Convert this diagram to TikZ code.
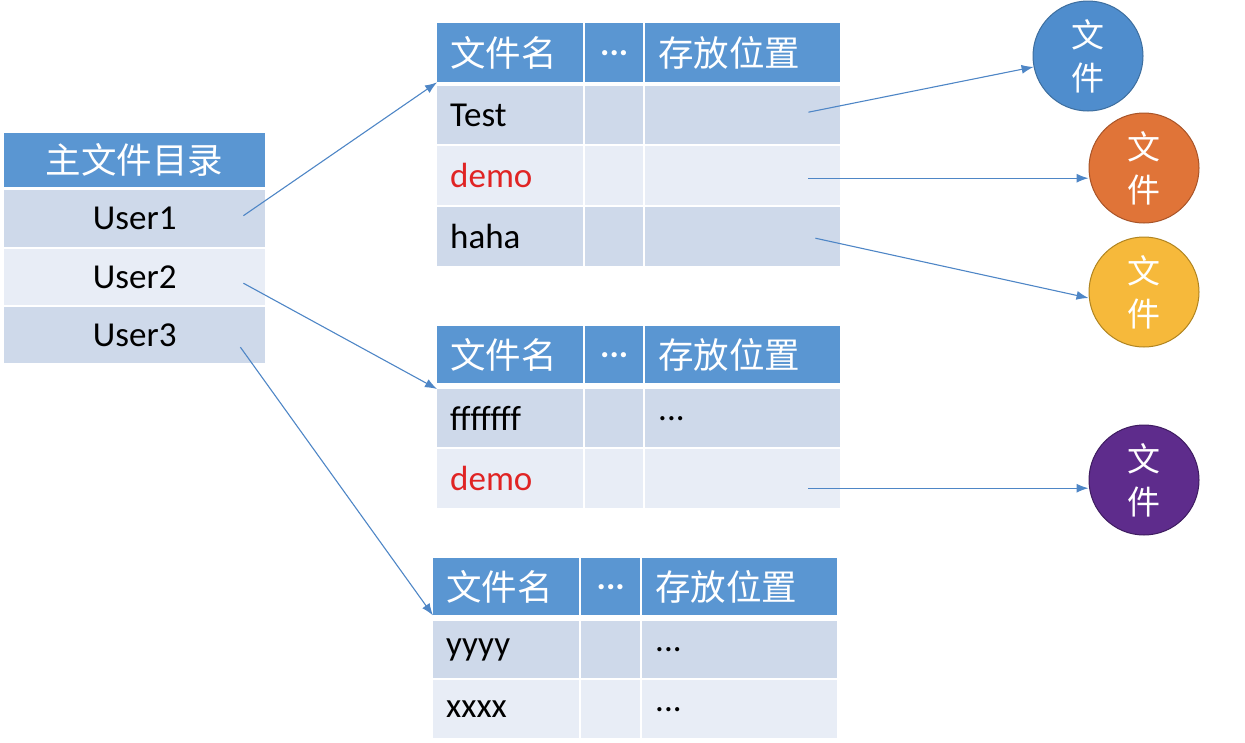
\documentclass[tikz,border=0pt]{standalone}
\usepackage{fontspec}
\setmainfont{Carlito}
\newfontfamily\cjk{Noto Sans CJK SC}
\usetikzlibrary{arrows.meta,calc}
\definecolor{hdr}{HTML}{5A96D2}
\definecolor{rowdark}{HTML}{CED9EA}
\definecolor{rowlight}{HTML}{E8EDF6}
\definecolor{arr}{HTML}{4E86C6}
\definecolor{demored}{HTML}{E02424}
\definecolor{fblue}{HTML}{4F8DCD}
\definecolor{fbluel}{HTML}{3D6E9E}
\definecolor{forange}{HTML}{E07438}
\definecolor{forangel}{HTML}{A85428}
\definecolor{fyellow}{HTML}{F6B93B}
\definecolor{fyellowl}{HTML}{B08420}
\definecolor{fpurple}{HTML}{5E2C8C}
\definecolor{fpurplel}{HTML}{3E1C60}
\begin{document}
\begin{tikzpicture}[x=1pt,y=-1pt,
  cell/.style={rectangle, anchor=north west, inner xsep=13pt, inner ysep=0pt,
    font=\fontsize{35}{42}\selectfont},
  hdrcell/.style={cell, fill=hdr, text=white},
  dk/.style={cell, fill=rowdark},
  lt/.style={cell, fill=rowlight},
  ca/.style={minimum width=146pt, text width=120pt, align=left},
  cb/.style={minimum width=58pt, text width=32pt, align=center},
  cc/.style={minimum width=195pt, text width=169pt, align=left},
  mcol/.style={minimum width=261pt, text width=235pt, align=center},
  cjkt/.style={font=\cjk\fontsize{35.5}{42}\selectfont},
  filec/.style={circle, minimum size=110pt, inner sep=0pt, line width=1pt, text=white,
    align=center, font=\cjk\fontsize{33}{43}\selectfont},
  conn/.style={draw=arr, line width=1.1pt, -{Latex[length=12pt,width=9pt]}}
]
\useasboundingbox (0,0) rectangle (1245,742);

% master directory
\node[hdrcell, mcol, cjkt, minimum height=54pt] (mh) at (4,133) {主文件目录};
\node[dk, mcol, minimum height=57pt] (u1) at (4,190) {User1};
\node[lt, mcol, minimum height=56pt] (u2) at (4,249) {User2};
\node[dk, mcol, minimum height=56pt] (u3) at (4,307) {User3};

% table 1
\node[hdrcell, ca, cjkt, minimum height=59pt] (t1h1) at (437,23) {文件名};
\node[hdrcell, cb, minimum height=59pt] (t1h2) at (585,23) {\textbf{...}};
\node[hdrcell, cc, cjkt, minimum height=59pt] (t1h3) at (645,23) {存放位置};
\node[dk, ca, minimum height=58pt] (t1r1c1) at (437,86) {Test};
\node[dk, cb, minimum height=58pt] (t1r1c2) at (585,86) {};
\node[dk, cc, minimum height=58pt] (t1r1c3) at (645,86) {};
\node[lt, ca, minimum height=59pt, text=demored] (t1r2c1) at (437,146) {demo};
\node[lt, cb, minimum height=59pt] (t1r2c2) at (585,146) {};
\node[lt, cc, minimum height=59pt] (t1r2c3) at (645,146) {};
\node[dk, ca, minimum height=59pt] (t1r3c1) at (437,207) {haha};
\node[dk, cb, minimum height=59pt] (t1r3c2) at (585,207) {};
\node[dk, cc, minimum height=59pt] (t1r3c3) at (645,207) {};

% table 2
\node[hdrcell, ca, cjkt, minimum height=57pt] (t2h1) at (437,326) {文件名};
\node[hdrcell, cb, minimum height=57pt] (t2h2) at (585,326) {\textbf{...}};
\node[hdrcell, cc, cjkt, minimum height=57pt] (t2h3) at (645,326) {存放位置};
\node[dk, ca, minimum height=58pt] (t2r1c1) at (437,389) {fffffff};
\node[dk, cb, minimum height=58pt] (t2r1c2) at (585,389) {};
\node[dk, cc, minimum height=58pt] (t2r1c3) at (645,389) {...};
\node[lt, ca, minimum height=59pt, text=demored] (t2r2c1) at (437,449) {demo};
\node[lt, cb, minimum height=59pt] (t2r2c2) at (585,449) {};
\node[lt, cc, minimum height=59pt] (t2r2c3) at (645,449) {};

% table 3
\node[hdrcell, ca, cjkt, minimum height=57pt] (t3h1) at (433,558) {文件名};
\node[hdrcell, cb, minimum height=57pt, minimum width=59pt] (t3h2) at (581,558) {\textbf{...}};
\node[hdrcell, cc, cjkt, minimum height=57pt] (t3h3) at (642,558) {存放位置};
\node[dk, ca, minimum height=57pt] (t3r1c1) at (433,621) {yyyy};
\node[dk, cb, minimum height=57pt, minimum width=59pt] (t3r1c2) at (581,621) {};
\node[dk, cc, minimum height=57pt] (t3r1c3) at (642,621) {...};
\node[lt, ca, minimum height=58pt] (t3r2c1) at (433,680) {xxxx};
\node[lt, cb, minimum height=58pt, minimum width=59pt] (t3r2c2) at (581,680) {};
\node[lt, cc, minimum height=58pt] (t3r2c3) at (642,680) {...};

% files
\node[filec, fill=fblue, draw=fbluel] (f1) at (1088,56) {文\\件};
\node[filec, fill=forange, draw=forangel] (f2) at (1144,168) {文\\件};
\node[filec, fill=fyellow, draw=fyellowl] (f3) at (1144,292) {文\\件};
\node[filec, fill=fpurple, draw=fpurplel] (f4) at (1144,480) {文\\件};

% connectors
\coordinate (a1) at ($(u1.east)+(-22,-3)$);
\coordinate (a2) at ($(u2.east)+(-22,6)$);
\coordinate (a3) at ($(u3.east)+(-25,12)$);
\draw[conn] (a1) -- (t1h1.south west);
\draw[conn] (a2) -- (t2r1c1.north west);
\draw[conn] (a3) -- (t3h1.south west);

\coordinate (b1) at ($(t1r1c3.east)+(-32,-3)$);
\coordinate (b2) at ($(t1r2c3.east)+(-32,2.5)$);
\coordinate (b3) at ($(t1r3c3.east)+(-25,1.5)$);
\coordinate (b4) at ($(t2r2c3.east)+(-32,9.5)$);
\coordinate (e3) at ($(f3.west)+(0,6)$);
\draw[conn] (b1) -- (f1);
\draw[conn] (b2) -- (b2 -| f2.west);
\draw[conn] (b3) -- (e3);
\draw[conn] (b4) -- (b4 -| f4.west);
\end{tikzpicture}
\end{document}
